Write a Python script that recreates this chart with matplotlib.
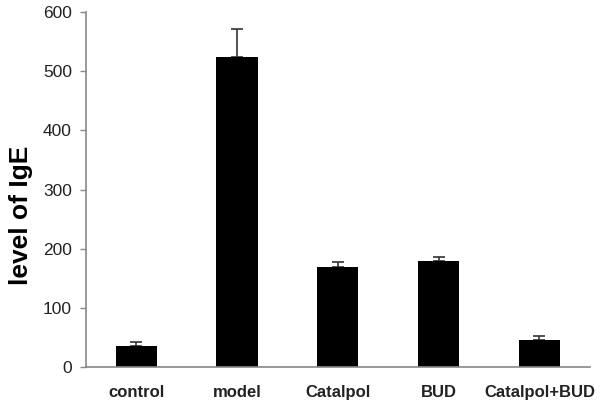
import numpy as np
import matplotlib
matplotlib.use("Agg")
from matplotlib import pyplot as plt

#--------
# Data:
#--------
groups = ["control", "model", "Catalpol", "BUD", "Catalpol+BUD"]
ige_mean = [35, 524, 169, 179, 46]
ige_err = [7, 47, 9, 7, 7]

#-----------
# Plotting:
#-----------
plt.rcParams["font.family"] = ["Liberation Sans", "DejaVu Sans"]

fig = plt.figure(figsize=(6, 4.05), dpi=100)
ax = fig.add_axes([0.143, 0.094, 0.84, 0.876])

x = np.arange(len(groups))
zeros = [0] * len(groups)
ax.bar(x, ige_mean, width=0.41, color="black", zorder=2)
ax.errorbar(x, ige_mean, yerr=[zeros, ige_err], fmt="none", ecolor="#333333",
            elinewidth=1.2, capsize=4, capthick=1.2, zorder=1)

ax.set_xlim(-0.5, len(groups) - 0.5)
ax.set_ylim(0, 600)
ax.set_yticks(range(0, 601, 100))
ax.set_xticks(x)
ax.set_xticklabels(groups, fontsize=12, fontweight="bold", color="#222222")
ax.tick_params(axis="x", length=0, pad=13)
ax.tick_params(axis="y", length=4, width=1, color="#888888", labelsize=12.5,
               labelcolor="#222222", pad=6)

ax.set_ylabel("level of IgE", fontsize=19, fontweight="bold")
ax.yaxis.set_label_coords(-0.105, 0.428)

for side in ("top", "right"):
    ax.spines[side].set_visible(False)
for side in ("left", "bottom"):
    ax.spines[side].set_color("#888888")
    ax.spines[side].set_linewidth(1.2)

fig.savefig("out.png", dpi=100)
